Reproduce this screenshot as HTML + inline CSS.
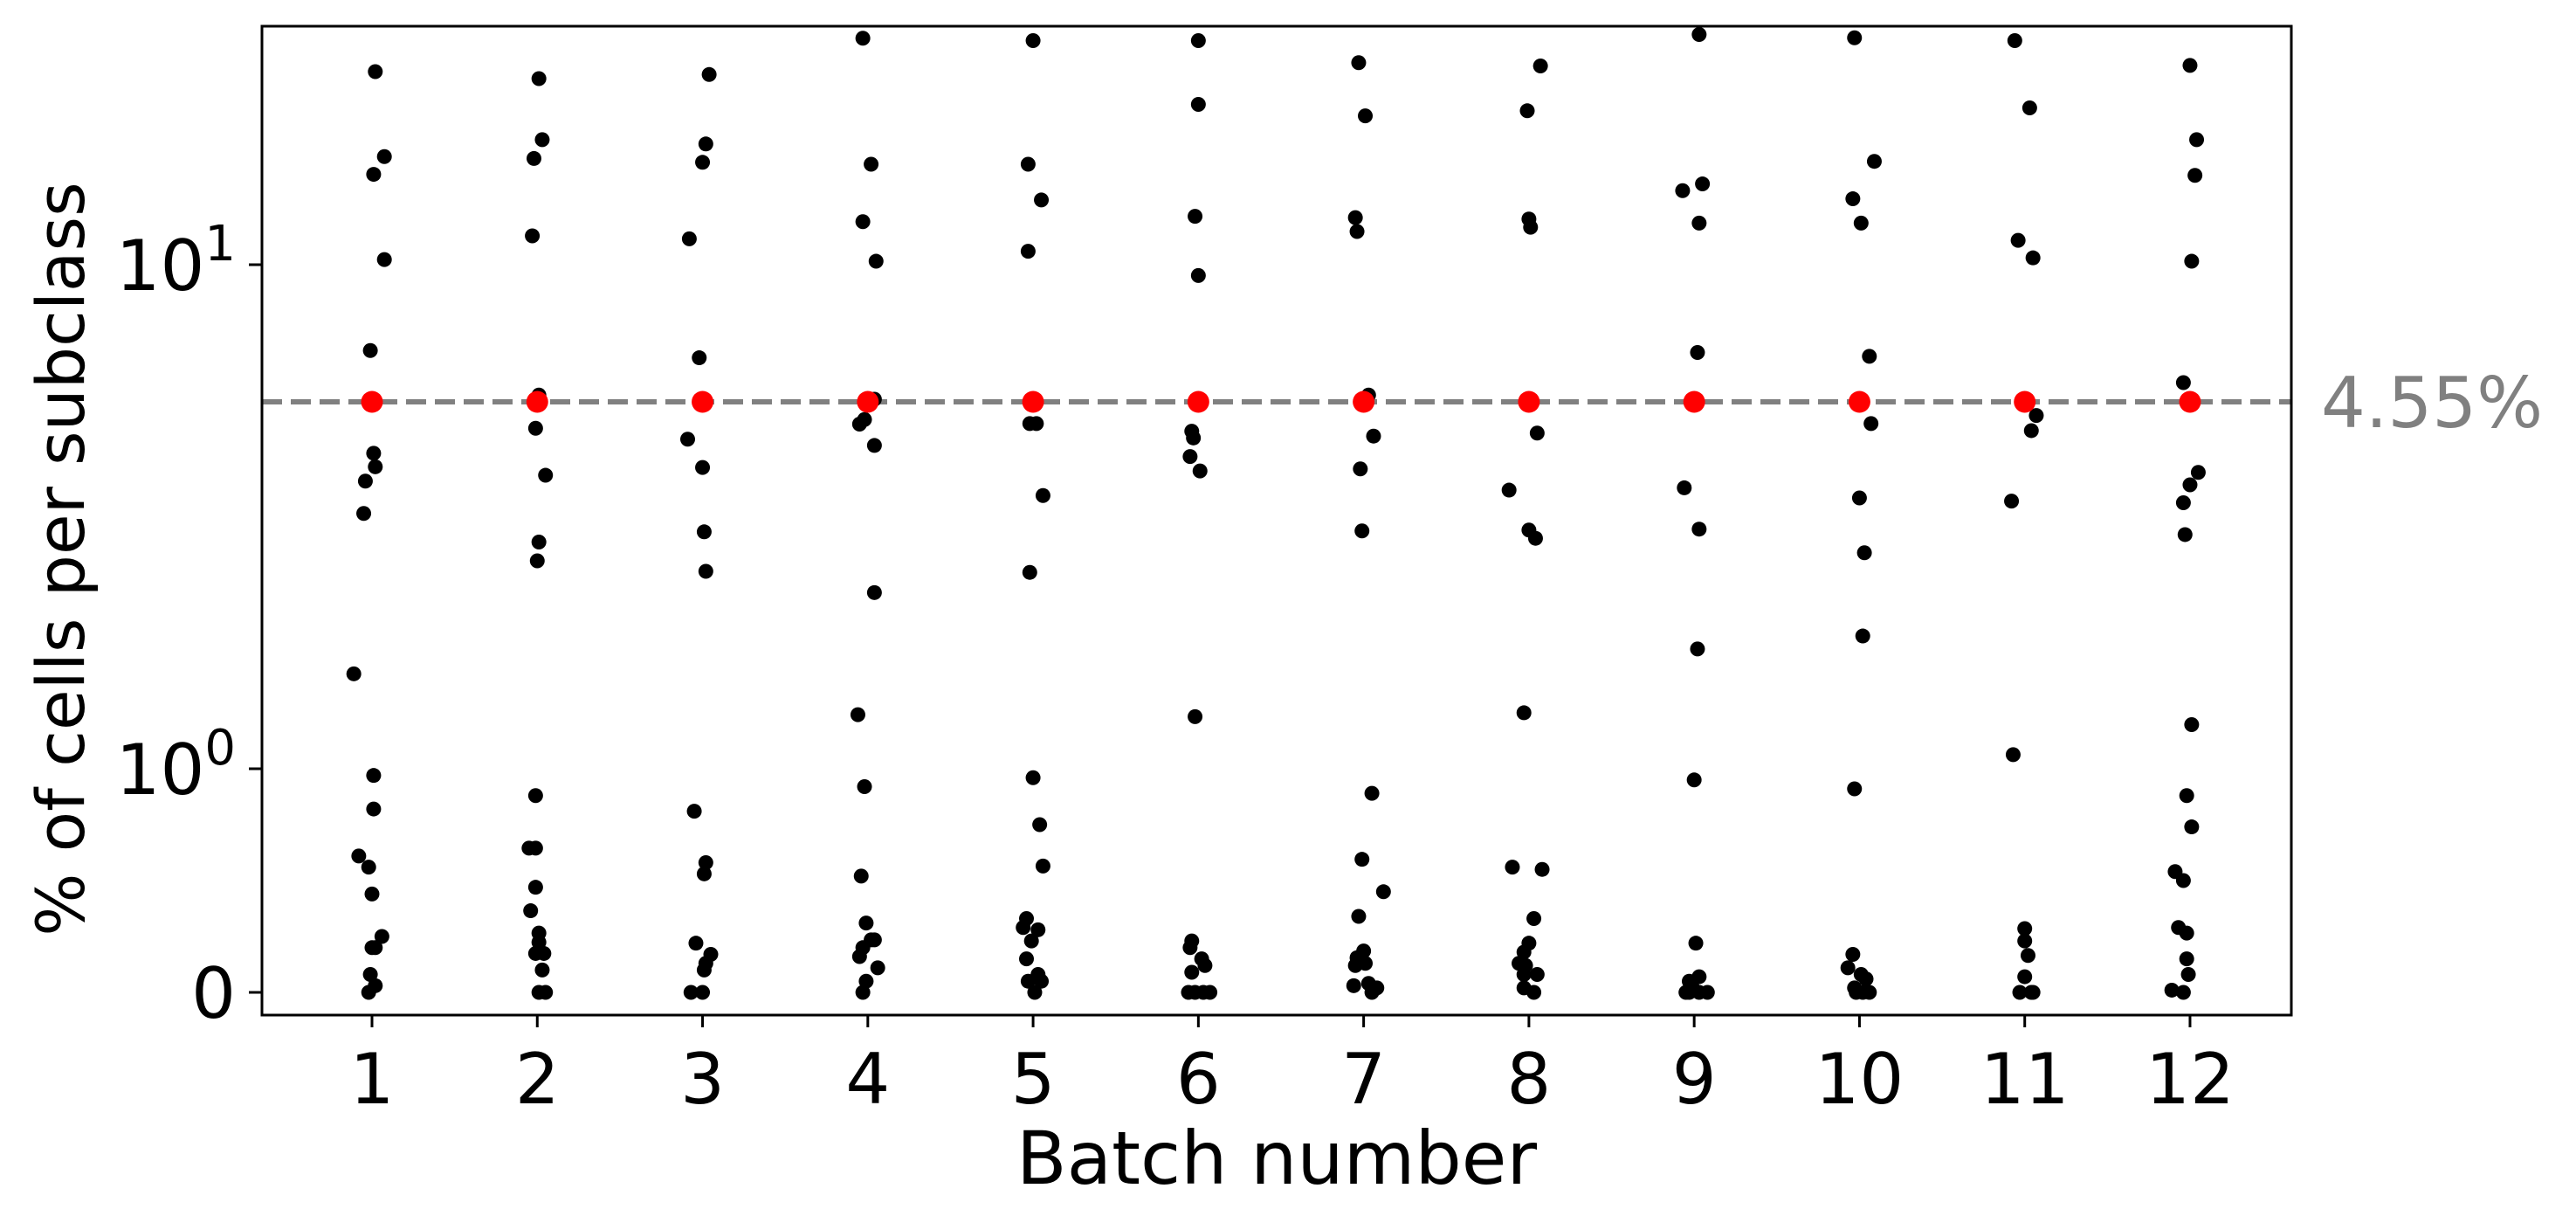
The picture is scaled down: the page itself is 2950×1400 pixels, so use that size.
<!DOCTYPE html>
<html><head><meta charset="utf-8"><style>
html,body{margin:0;padding:0;background:#fff;}
svg{display:block;font-family:"DejaVu Sans","Liberation Sans",sans-serif;}
</style></head><body>
<svg id="chart" width="2950" height="1400" viewBox="0 0 2950 1400" xmlns="http://www.w3.org/2000/svg">
<rect width="2950" height="1400" fill="#fff"/>
<g id="marks"></g>
<g id="axes"></g>
</svg>
<script>
const batches = [1,2,3,4,5,6,7,8,9,10,11,12];
const b1 = [30.3,18.6,16.8,10.3,6.11,3.68,3.48,3.28,2.87,1.48,0.97,0.82,0.61,0.56,0.44,0.25,0.20,0.20,0.08,0.03,0];
const b2 = [29.1,20.5,18.4,11.8,4.73,4.08,3.36,2.55,2.36,0.88,0.645,0.645,0.47,0.365,0.265,0.224,0.174,0.174,0.10,0,0];
const b3 = [29.8,20.0,18.0,11.6,5.86,3.90,3.47,2.66,2.26,0.81,0.58,0.53,0.22,0.17,0.13,0.10,0,0];
const b4 = [36.7,17.8,12.8,10.2,4.62,4.23,4.15,3.80,2.07,1.25,0.92,0.52,0.31,0.235,0.235,0.20,0.16,0.11,0.05,0];
const b5 = [36.2,17.8,14.5,10.8,4.16,4.16,3.09,2.25,0.96,0.75,0.565,0.33,0.29,0.28,0.23,0.15,0.08,0.05,0.05,0];
const b6 = [36.2,25.1,13.2,9.4,4.03,3.92,3.63,3.42,1.24,0.23,0.20,0.15,0.12,0.09,0,0,0,0];
const b7 = [31.9,23.5,13.1,12.1,4.73,3.95,3.45,2.67,0.89,0.595,0.45,0.34,0.185,0.155,0.13,0.12,0.04,0.03,0.02,0];
const b8 = [31.3,24.2,13.0,12.4,4.00,3.16,2.68,2.59,1.26,0.56,0.55,0.33,0.22,0.18,0.13,0.12,0.08,0.08,0.02,0];
const b9 = [37.5,15.9,15.3,12.7,6.04,3.19,2.69,1.64,0.95,0.22,0.07,0.05,0.02,0,0,0,0];
const b10 = [36.8,18.1,14.6,12.7,5.91,4.16,3.06,2.44,1.73,0.91,0.17,0.11,0.08,0.06,0.02,0,0,0];
const b11 = [36.2,24.6,11.5,10.4,4.30,4.04,3.02,1.06,0.285,0.23,0.165,0.07,0,0,0];
const b12 = [31.4,20.5,16.7,10.2,5.08,3.40,3.23,3.00,2.63,1.20,0.88,0.74,0.54,0.50,0.29,0.265,0.15,0.08,0.01,0];
const j1 = [.02,.075,.01,.075,-.01,.01,.02,-.04,-.05,-.11,.01,.01,-.08,-.02,0,.06,0,.02,-.01,.02,-.02];
const j2 = [.01,.03,-.02,-.03,.01,-.01,.05,.01,0,-.01,-.05,-.01,-.01,-.04,.01,.01,-.01,.04,.03,.01,.05];
const j3 = [.04,.02,0,-.08,-.02,-.09,0,.01,.02,-.05,.02,.01,-.04,.05,.02,.01,-.07,0];
const j4 = [-.03,.02,-.03,.05,.04,-.02,-.05,.04,.04,-.06,-.02,-.04,-.01,.02,.04,-.03,-.05,.06,-.01,-.03];
const j5 = [0,-.03,.05,-.03,-.02,.02,.06,-.02,0,.04,.06,-.04,-.06,.03,-.01,-.04,.03,-.03,.05,.01];
const j6 = [0,0,-.02,0,-.04,-.03,-.05,.01,-.02,-.04,-.05,.02,.04,-.04,-.06,-.02,.03,.07];
const j7 = [-.03,.01,-.05,-.04,.03,.06,-.02,-.01,.05,-.01,.12,-.03,0,-.04,.01,-.05,.03,-.06,.08,.05];
const j8 = [.07,-.01,0,.01,.05,-.12,0,.04,-.03,-.10,.08,.03,0,-.03,-.06,-.02,-.03,.05,-.03,.03];
const j9 = [.03,.05,-.07,.03,.02,-.06,.03,.02,0,.01,.03,-.03,-.01,-.05,.03,.08,-.03];
const j10 = [-.03,.09,-.04,.01,.06,.07,0,.03,.02,-.03,-.04,-.07,.01,.04,-.03,.06,-.02,.02];
const j11 = [-.06,.03,-.04,.05,.07,.04,-.08,-.07,0,0,.02,0,-.03,.04,.05];
const j12 = [0,.04,.03,.01,-.04,.05,0,-.04,-.03,.01,-.02,.01,-.09,-.04,-.07,-.02,-.02,-.01,-.11,-.04];
const values = [b1,b2,b3,b4,b5,b6,b7,b8,b9,b10,b11,b12];
const jitters = [j1,j2,j3,j4,j5,j6,j7,j8,j9,j10,j11,j12];
const expected = [4.55,4.55,4.55,4.55,4.55,4.55,4.55,4.55,4.55,4.55,4.55,4.55];
const refValue = 4.55;
const refLabel = "4.55%";
const yTickValues = [0,1,10];
const yTickBase = ["0","10","10"];
const yTickExp = ["","0","1"];

const NS = "http://www.w3.org/2000/svg";
const L = 300, R = 2624, T = 30, B = 1162;
function xScale(b){ return 426 + (b-1)*189.27; }
function yScale(v){
  const Y0=1136, Y1=880, Ym=460, Y10=303;
  if (v <= 1) return Y0 - v*(Y0-Y1);
  const lv = Math.log10(v), lm = Math.log10(4.55);
  if (v <= 4.55) return Y1 - lv/lm*(Y1-Ym);
  return Ym - (lv-lm)*(Ym-Y10)/(1-lm);
}
function mk(tag, attrs, parent){
  const e = document.createElementNS(NS, tag);
  for (const k in attrs) e.setAttribute(k, attrs[k]);
  parent.appendChild(e); return e;
}
const marks = document.getElementById('marks');
const axes = document.getElementById('axes');

const ref = mk('line', {x1:L, x2:R, y1:yScale(refValue), y2:yScale(refValue), stroke:'#808080', 'stroke-width':6, 'stroke-dasharray':'23 10'}, marks);



values.forEach((arr, i) => {
  const g = mk('g', {}, marks);
  
  
  arr.forEach((v, k) => {
    const c = mk('circle', {cx: xScale(batches[i] + (jitters[i][k]||0)), cy: yScale(v), r: 8.5, fill:'#000'}, g);
    
    
  });
  const m = mk('circle', {cx: xScale(batches[i]), cy: yScale(expected[i]), r: 12.5, fill:'#ff0000'}, marks);
  
  
});

const frame = mk('rect', {x:L, y:T, width:R-L, height:B-T, fill:'none', stroke:'#000', 'stroke-width':3}, axes);



batches.forEach(b => {
  const x = xScale(b);
  const t = mk('line', {x1:x, x2:x, y1:B, y2:B+14, stroke:'#000', 'stroke-width':3}, axes);
  
  
  const lb = mk('text', {x:x, y:1263, 'font-size':80, 'text-anchor':'middle', fill:'#000'}, axes);
  lb.textContent = String(b);
  
  
});

yTickValues.forEach((v, i) => {
  const y = yScale(v);
  const t = mk('line', {x1:L-15, x2:L, y1:y, y2:y, stroke:'#000', 'stroke-width':3}, axes);
  
  
  const lb = mk('text', {x:270, y:y+29, 'font-size':80, 'text-anchor':'end', fill:'#000'}, axes);
  
  
  if (yTickExp[i]) {
    const s1 = mk('tspan', {}, lb); s1.textContent = yTickBase[i];
    const s2 = mk('tspan', {'font-size':56, dy:-34}, lb); s2.textContent = yTickExp[i];
  } else lb.textContent = yTickBase[i];
});

const rl = mk('text', {x:2658, y:yScale(refValue)+29, 'font-size':80, fill:'#808080'}, axes);
rl.textContent = refLabel;



const xt = mk('text', {x:(L+R)/2, y:1355, 'font-size':84, 'text-anchor':'middle', fill:'#000'}, axes);
xt.textContent = 'Batch number';


const yt = mk('text', {x:0, y:0, 'font-size':76, 'text-anchor':'middle', fill:'#000', transform:'translate(96,640) rotate(-90)'}, axes);
yt.textContent = '% of cells per subclass';


</script>
</body></html>
